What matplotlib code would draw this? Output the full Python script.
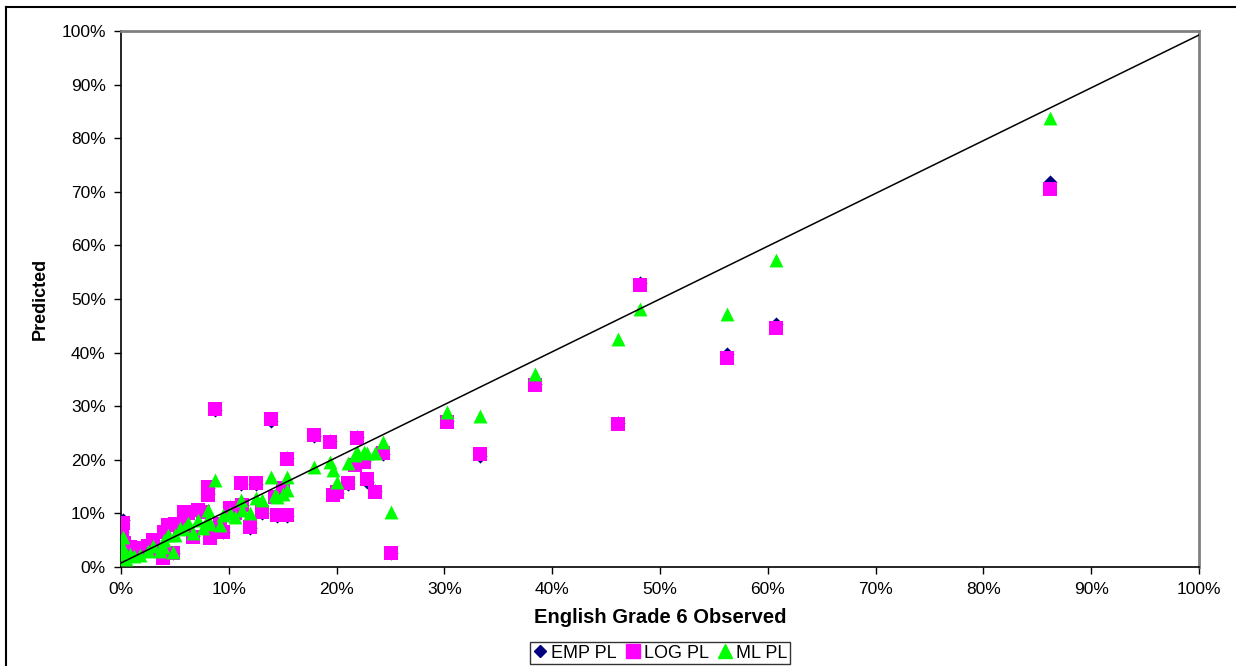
import matplotlib
matplotlib.use("Agg")
import matplotlib.pyplot as plt
from matplotlib.ticker import FuncFormatter, MultipleLocator
from matplotlib.lines import Line2D

plt.rcParams['font.family'] = ['Liberation Sans', 'DejaVu Sans']

# Observed (%) and predicted values (%) per method
observed = [86.2, 60.8, 56.2, 48.1, 46.1, 38.4, 33.3, 30.2, 25.0, 24.3,
            23.6, 22.8, 22.5, 21.9, 21.7, 21.1, 20.0, 19.7, 19.4, 17.9,
            15.4, 15.4, 15.0, 14.5, 13.9, 14.3, 13.1, 12.5, 12.0, 11.1,
            11.2, 10.6, 10.1, 9.5, 9.2, 8.7, 8.1, 8.1, 8.3, 7.6,
            7.1, 6.7, 6.2, 5.8, 5.5, 5.0, 4.8, 4.4, 4.0, 3.9,
            3.6, 3.0, 2.5, 1.8, 1.2, 0.8, 0.2, 0.1, 0.0, 0.3, 0.5]
log_pl = [70.5, 44.6, 39.0, 52.6, 26.7, 34.0, 21.0, 27.0, 2.7, 21.2,
          14.0, 16.4, 19.6, 24.0, 19.0, 15.7, 14.0, 13.4, 23.3, 24.6,
          20.1, 9.7, 14.8, 9.7, 27.6, 13.0, 10.3, 15.7, 7.5, 15.7,
          11.5, 10.0, 11.0, 6.5, 8.0, 29.5, 14.9, 13.4, 5.5, 10.3,
          10.6, 5.6, 10.1, 10.3, 7.5, 8.0, 2.6, 7.8, 6.5, 1.7,
          3.2, 5.0, 4.0, 3.0, 3.5, 3.7, 8.2, 6.3, 7.0, 4.5, 2.5]
emp_pl = [71.8, 45.3, 39.7, 52.9, 26.8, 34.2, 20.8, 27.2, 2.7, 21.0,
          14.1, 15.9, 19.8, 24.2, 19.2, 15.5, 13.8, 13.6, 23.6, 24.5,
          20.3, 9.6, 14.6, 9.6, 27.2, 13.2, 10.1, 15.5, 7.3, 15.5,
          11.6, 10.1, 11.2, 6.6, 7.9, 29.2, 14.7, 13.6, 5.6, 10.4,
          10.5, 5.8, 10.2, 10.1, 7.6, 8.1, 2.7, 7.9, 6.4, 1.8,
          3.3, 5.1, 4.1, 3.1, 3.4, 3.8, 8.8, 6.5, 7.2, 4.6, 2.6]
ml_pl = [83.7, 57.2, 47.2, 48.2, 42.6, 36.0, 28.2, 29.0, 10.2, 23.3,
         21.2, 21.2, 21.5, 21.5, 20.9, 19.4, 15.9, 18.1, 19.6, 18.7,
         16.8, 14.4, 13.6, 13.1, 16.8, 13.5, 12.5, 12.8, 10.0, 12.5,
         10.6, 9.3, 10.0, 9.7, 7.8, 16.2, 10.6, 9.0, 8.0, 7.2,
         8.8, 6.3, 8.2, 7.0, 7.3, 6.0, 2.8, 6.0, 5.0, 3.7,
         3.0, 4.0, 3.0, 2.2, 2.0, 2.5, 5.6, 4.0, 3.0, 1.9, 1.5]
series_names = ['EMP PL', 'LOG PL', 'ML PL']
fit_x = [0, 100]
fit_y = [0.75, 99.25]

W, H = 1236, 666
fig = plt.figure(figsize=(W / 100, H / 100), dpi=100)
ax = fig.add_axes([121 / W, 1 - 567 / H, (1199 - 121) / W, (567 - 31) / H])

x = [v / 100 for v in observed]
ax.scatter(x, [v / 100 for v in emp_pl], marker='D', s=52, color='#000080',
           linewidths=0, zorder=3, label=series_names[0])
ax.scatter(x, [v / 100 for v in log_pl], marker='s', s=100, color='#FF00FF',
           linewidths=0, zorder=4, label=series_names[1])
ax.scatter(x, [v / 100 for v in ml_pl], marker='^', s=100, color='#00FF00',
           linewidths=0, zorder=5, label=series_names[2])
ax.plot([v / 100 for v in fit_x], [v / 100 for v in fit_y], color='black',
        linewidth=1.1, zorder=6)

ax.set_xlim(0, 1)
ax.set_ylim(0, 1)
pct = FuncFormatter(lambda v, p: f"{round(v * 100)}%")
ax.xaxis.set_major_locator(MultipleLocator(0.1))
ax.yaxis.set_major_locator(MultipleLocator(0.1))
ax.xaxis.set_major_formatter(pct)
ax.yaxis.set_major_formatter(pct)
ax.tick_params(direction='out', length=5, width=1, labelsize=12.5, colors='black', pad=6)

for s in ['left', 'bottom']:
    ax.spines[s].set_color('black')
    ax.spines[s].set_linewidth(1.2)
for s in ['top', 'right']:
    ax.spines[s].set_color('#808080')
    ax.spines[s].set_linewidth(2)

ax.set_xlabel('English Grade 6 Observed', fontsize=14.5, fontweight='bold', labelpad=8)
ax.set_ylabel('Predicted', fontsize=13, fontweight='bold', labelpad=9)

handles = [
    Line2D([], [], marker='D', color='#000080', linestyle='none', markersize=6),
    Line2D([], [], marker='s', color='#FF00FF', linestyle='none', markersize=10),
    Line2D([], [], marker='^', color='#00FF00', linestyle='none', markersize=10),
]
leg = fig.legend(handles, series_names, loc='center', bbox_to_anchor=(660 / W, 1 - 653 / H),
                 ncol=3, frameon=True, fancybox=False, edgecolor='black', fontsize=13,
                 handlelength=0.8, handletextpad=0.2, columnspacing=0.5,
                 borderpad=0.15, borderaxespad=0)
leg.get_frame().set_linewidth(1)

# outer chart border (left and top visible)
fig.add_artist(Line2D([6 / W, 6 / W], [0, 1 - 7 / H], color='black', linewidth=1.5,
                      transform=fig.transFigure))
fig.add_artist(Line2D([6 / W, 1], [1 - 7 / H, 1 - 7 / H], color='black', linewidth=1.5,
                      transform=fig.transFigure))

fig.savefig('out.png', dpi=100)
